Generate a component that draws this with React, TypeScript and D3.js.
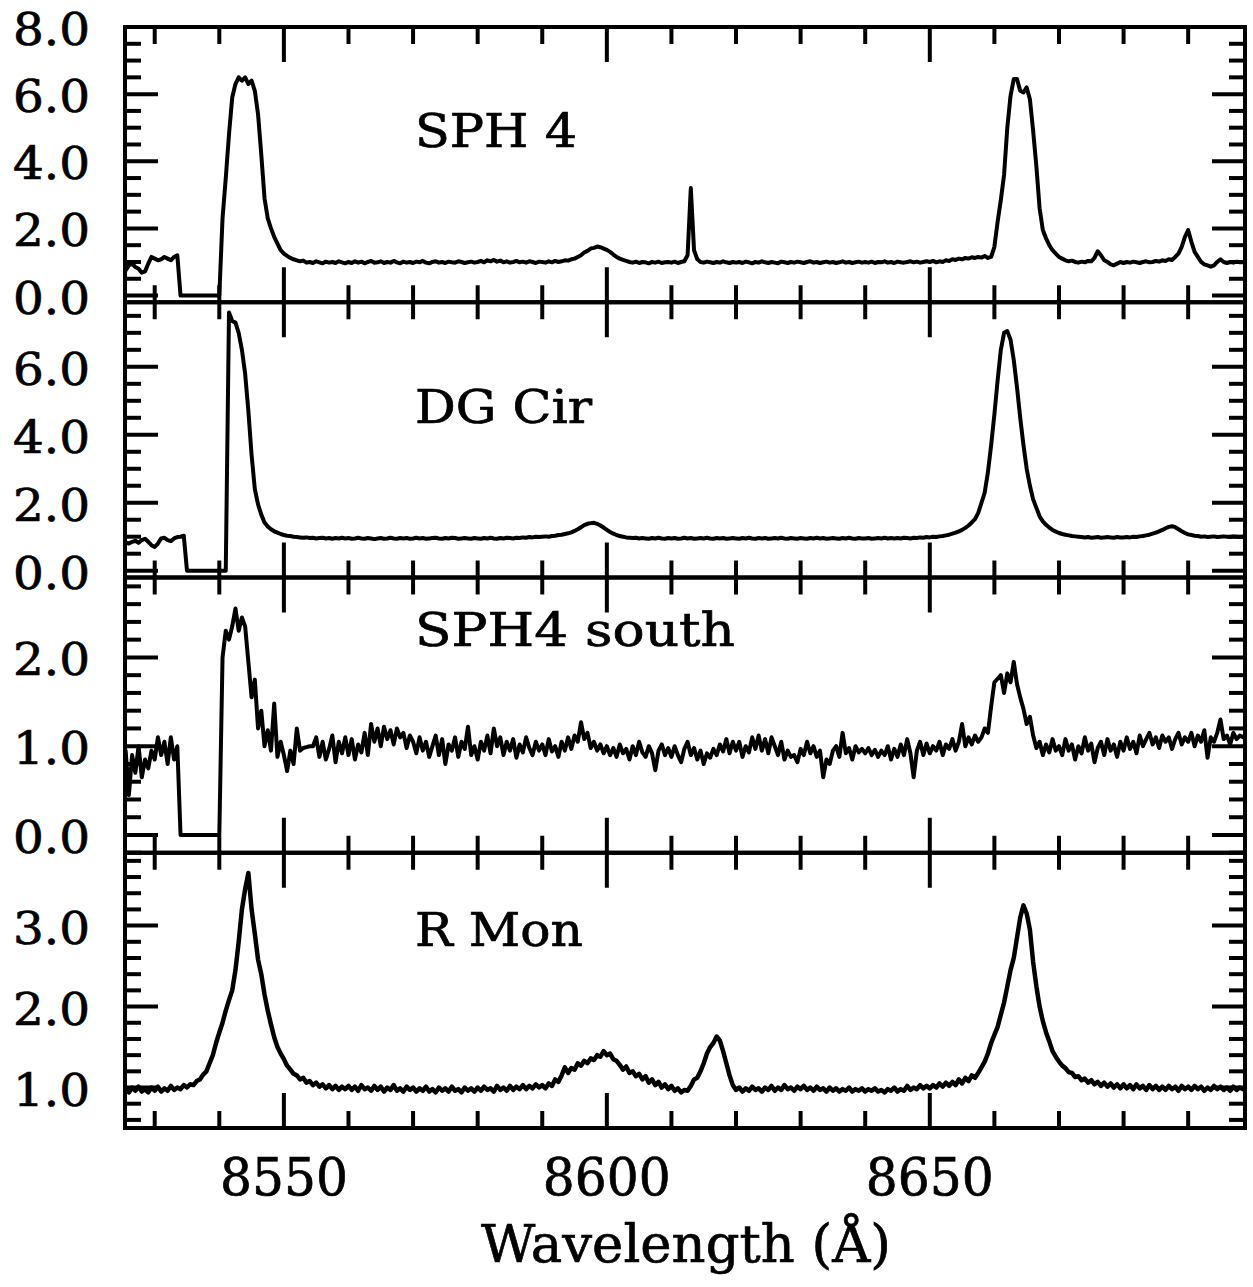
import React from 'react';
import * as d3 from 'd3';

// ---------- data ----------
const LAMBDA_START = 8525; // Å, first sample
const LAMBDA_STEP = 0.5; // Å per sample

// SPH 4
const sph4 = [
  /*8525*/ 0.85, 0.75, 0.9, 0.95, 0.85, 0.8, 0.68, 0.72, 0.95, 1.15,
  /*8530*/ 1.1, 1.05, 1.08, 1.15, 1.1, 1.05, 1.15, 1.2, 0, 0, 0, 0, 0, 0, 0, 0, 0, 0, 0, 0,
  /*8540*/ 0, 2.3, 3.5, 4.8, 5.9, 6.3, 6.5, 6.4, 6.5, 6.3, 6.4, 6.1, 5.4, 4.2, 2.9, 2.3, 2.0, 1.75, 1.55, 1.35,
  /*8550*/ 1.25, 1.18, 1.12, 1.08, 1.05, 1.02, 1.04, 0.98, 1.0, 0.97, 1.02, 0.99, 0.96, 1.01, 0.98, 1.0, 0.97, 1.02, 0.99, 0.96,
  /*8560*/ 1.0, 0.97, 1.02, 0.98, 1.01, 0.96, 1.0, 1.03, 0.98, 0.99, 1.02, 0.97, 1.0, 0.98, 1.03, 0.99, 0.96, 1.01, 0.98, 1.0,
  /*8570*/ 0.97, 1.01, 0.99, 1.03, 0.98, 0.96, 1.0, 1.02, 0.98, 1.0, 0.97, 1.01, 0.99, 0.98, 1.02, 1.0, 0.97, 0.99, 1.01, 0.98,
  /*8580*/ 1.0, 1.03, 0.99, 1.05, 1.02, 1.06, 1.01, 1.04, 0.99, 1.02, 0.98, 1.0, 1.03, 0.99, 1.01, 0.98, 1.02, 1.0, 0.97, 1.01,
  /*8590*/ 1.0, 0.98, 1.02, 0.99, 1.03, 1.0, 1.02, 1.05, 1.04, 1.08, 1.1, 1.15, 1.2, 1.28, 1.33, 1.4, 1.42, 1.46, 1.44, 1.4,
  /*8600*/ 1.36, 1.3, 1.22, 1.15, 1.1, 1.06, 1.03, 1.0, 0.98, 1.01, 0.97, 1.0, 0.99, 0.96, 1.0, 0.98, 1.01, 0.97, 0.99, 1.0,
  /*8610*/ 0.98, 1.01, 0.97, 1.0, 1.02, 1.2, 3.2, 1.35, 1.08, 1.0, 0.98, 1.01, 0.99, 0.97, 1.0, 0.98, 1.02, 0.99, 0.97, 1.0,
  /*8620*/ 0.98, 1.0, 0.97, 1.01, 0.99, 0.96, 1.0, 0.98, 1.02, 0.99, 0.97, 1.0, 0.98, 0.96, 1.01, 0.99, 0.97, 1.0, 0.98, 1.01,
  /*8630*/ 0.99, 0.97, 1.0, 1.02, 0.98, 1.0, 0.97, 0.99, 1.01, 0.98, 1.0, 0.97, 0.99, 1.02, 0.98, 1.0, 0.97, 0.99, 1.01, 0.98,
  /*8640*/ 1.0, 0.98, 1.01, 0.97, 1.0, 0.99, 1.02, 0.98, 1.0, 0.97, 1.01, 0.99, 0.98, 1.0, 1.02, 0.99, 1.01, 0.98, 1.0, 1.02,
  /*8650*/ 1.0, 1.03, 0.99, 1.02, 1.0, 1.05, 1.03, 1.08, 1.06, 1.1, 1.08, 1.12, 1.1, 1.14, 1.12, 1.15, 1.13, 1.18, 1.12, 1.15,
  /*8660*/ 1.45, 2.2, 2.85, 3.6, 5.0, 5.95, 6.45, 6.45, 6.1, 6.05, 6.2, 5.85, 4.9, 3.85, 2.6, 1.95, 1.7, 1.5, 1.35, 1.25,
  /*8670*/ 1.15, 1.1, 1.05, 1.02, 1.04, 1.0, 0.98, 1.01, 0.99, 1.03, 1.02, 1.12, 1.32, 1.2, 1.05, 1.0, 0.93, 0.9, 0.95, 1.0,
  /*8680*/ 0.97, 1.0, 0.98, 1.01, 0.99, 0.97, 1.0, 1.02, 0.99, 1.0, 1.03, 1.01, 1.05, 1.03, 1.08, 1.06, 1.15, 1.25, 1.45, 1.75,
  /*8690*/ 1.95, 1.6, 1.3, 1.15, 1.0, 0.93, 0.9, 0.86, 0.9, 1.0, 1.08, 1.0, 0.97, 1.0, 0.98, 1.01, 0.99, 1.0, 0.98, 1.0,
];

// DG Cir
const dgCir = [
  /*8525*/ 0.85, 0.83, 0.8, 0.85, 0.88, 0.82, 0.9, 0.94, 0.85, 0.75,
  /*8530*/ 0.7, 0.8, 0.95, 0.97, 0.9, 0.87, 0.95, 0.99, 1.0, 1.03, 0, 0, 0, 0, 0, 0, 0, 0, 0, 0,
  /*8540*/ 0, 0, 0, 7.6, 7.35, 7.3, 7.0, 6.5, 5.8, 4.7, 3.4, 2.4, 1.95, 1.65, 1.42, 1.3, 1.22, 1.16, 1.12, 1.08,
  /*8550*/ 1.05, 1.03, 1.02, 1.0, 0.99, 0.98, 0.97, 0.98, 0.96, 0.97, 0.95, 0.96, 0.97, 0.95, 0.96, 0.94, 0.96, 0.95, 0.97, 0.95,
  /*8560*/ 0.96, 0.94, 0.95, 0.97, 0.95, 0.94, 0.96, 0.95, 0.93, 0.95, 0.96, 0.94, 0.95, 0.97, 0.95, 0.94, 0.96, 0.95, 0.96, 0.94,
  /*8570*/ 0.95, 0.97, 0.95, 0.96, 0.94, 0.95, 0.96, 0.97, 0.95, 0.94, 0.96, 0.95, 0.97, 0.96, 0.94, 0.95, 0.96, 0.95, 0.94, 0.96,
  /*8580*/ 0.95, 0.94, 0.96, 0.95, 0.97, 0.95, 0.94, 0.96, 0.95, 0.97, 0.96, 0.95, 0.97, 0.96, 0.98, 0.97, 0.99, 0.98, 1.0, 0.99,
  /*8590*/ 1.0, 1.01, 1.0, 1.02, 1.03, 1.05, 1.06, 1.08, 1.1, 1.13, 1.17, 1.22, 1.28, 1.34, 1.38, 1.4, 1.41, 1.38, 1.33, 1.27,
  /*8600*/ 1.2, 1.14, 1.09, 1.05, 1.02, 1.0, 0.98, 0.97, 0.96, 0.97, 0.95, 0.96, 0.95, 0.94, 0.96, 0.95, 0.97, 0.95, 0.94, 0.96,
  /*8610*/ 0.95, 0.96, 0.94, 0.95, 0.97, 0.95, 0.96, 0.94, 0.95, 0.96, 0.95, 0.97, 0.95, 0.94, 0.96, 0.95, 0.96, 0.94, 0.95, 0.96,
  /*8620*/ 0.95, 0.94, 0.96, 0.95, 0.97, 0.95, 0.94, 0.96, 0.95, 0.96, 0.94, 0.95, 0.96, 0.95, 0.97, 0.95, 0.94, 0.96, 0.95, 0.94,
  /*8630*/ 0.96, 0.95, 0.94, 0.96, 0.95, 0.97, 0.95, 0.96, 0.94, 0.95, 0.96, 0.95, 0.94, 0.96, 0.95, 0.97, 0.95, 0.94, 0.96, 0.95,
  /*8640*/ 0.95, 0.96, 0.94, 0.95, 0.96, 0.95, 0.97, 0.95, 0.96, 0.95, 0.96, 0.95, 0.97, 0.96, 0.95, 0.97, 0.96, 0.98, 0.97, 0.99,
  /*8650*/ 0.98, 1.0, 0.99, 1.01, 1.02, 1.04, 1.06, 1.09, 1.12, 1.16, 1.2, 1.26, 1.33, 1.42, 1.52, 1.7, 2.0, 2.3, 2.9, 3.7,
  /*8660*/ 4.6, 5.6, 6.5, 7.0, 7.05, 6.8, 6.2, 5.4, 4.5, 3.7, 3.0, 2.5, 2.1, 1.85, 1.6, 1.45, 1.35, 1.27, 1.2, 1.15,
  /*8670*/ 1.11, 1.08, 1.06, 1.04, 1.02, 1.01, 1.0, 0.99, 0.98, 0.99, 0.97, 0.98, 0.99, 0.97, 0.98, 0.99, 0.98, 0.97, 0.99, 0.98,
  /*8680*/ 0.98, 0.99, 0.98, 1.0, 0.99, 1.01, 1.02, 1.04, 1.06, 1.09, 1.12, 1.16, 1.2, 1.25, 1.29, 1.31, 1.28, 1.22, 1.16, 1.11,
  /*8690*/ 1.07, 1.05, 1.03, 1.02, 1.0, 1.01, 0.99, 1.0, 1.01, 0.99, 1.0, 1.01, 1.0, 0.99, 1.01, 1.0, 0.99, 1.0, 1.01, 1.0,
];

// SPH4 south
const sph4South = [
  /*8525*/ 0.75, 0.95, 0.45, 0.9, 0.7, 1.0, 0.65, 0.85, 0.75, 0.95,
  /*8530*/ 0.85, 1.1, 0.9, 1.05, 0.8, 1.1, 0.85, 1.0, 0, 0, 0, 0, 0, 0, 0, 0, 0, 0, 0, 0,
  /*8540*/ 0, 2.0, 2.3, 2.2, 2.35, 2.55, 2.3, 2.45, 2.35, 1.95, 1.55, 1.75, 1.2, 1.4, 1.0, 1.18, 0.95, 1.48, 0.88, 1.05,
  /*8550*/ 0.9, 0.72, 0.95, 0.8, 1.2, 0.95, 0.98, 0.99, 1.0, 1.0, 1.1, 0.88, 1.05, 0.85, 0.97, 1.12, 0.82, 1.05, 0.92, 1.1,
  /*8560*/ 0.9, 1.08, 0.85, 1.02, 0.93, 1.15, 0.9, 1.25, 1.05, 1.2, 1.0, 1.22, 1.08, 1.18, 1.02, 1.2, 1.1, 1.15, 0.98, 1.12,
  /*8570*/ 1.05, 0.92, 1.1, 0.95, 1.05, 0.88, 1.0, 1.12, 0.9, 1.08, 0.8, 1.02, 0.95, 1.1, 0.88, 1.05, 0.97, 1.22, 0.9, 1.0,
  /*8580*/ 0.85, 1.05, 0.95, 1.12, 0.92, 1.2, 1.0, 1.1, 0.9, 1.05, 0.95, 1.08, 0.87, 1.02, 0.93, 1.1, 0.98, 0.9, 1.05, 0.95,
  /*8590*/ 1.02, 0.9, 1.08, 0.94, 1.0, 0.88, 1.05, 0.95, 1.1, 0.97, 1.12, 1.05, 1.27, 1.08, 1.15, 0.98, 1.05, 0.95, 1.02, 0.92,
  /*8600*/ 1.0, 0.9, 0.98, 0.88, 1.02, 0.92, 0.97, 0.85, 1.0, 0.9, 1.05, 0.93, 0.88, 1.0, 0.92, 0.73, 0.95, 1.02, 0.9, 0.98,
  /*8610*/ 0.88, 1.0, 0.9, 0.82, 0.97, 1.05, 0.9, 0.98, 0.85, 0.95, 0.8, 0.92, 0.87, 0.97, 0.9, 1.02, 0.94, 1.08, 0.92, 1.05,
  /*8620*/ 0.95, 1.05, 0.88, 1.0, 0.93, 1.1, 0.97, 1.12, 0.95, 1.08, 0.92, 1.1, 1.0, 0.9, 1.05, 0.85, 0.95, 0.88, 0.9, 0.82,
  /*8630*/ 0.97, 0.9, 1.05, 0.92, 1.0, 0.88, 0.95, 0.65, 0.85, 0.8, 0.95, 1.0, 0.88, 1.15, 0.92, 0.98, 0.85, 1.0, 0.93, 0.97,
  /*8640*/ 0.92, 0.98, 0.9, 0.96, 0.88, 0.95, 0.9, 1.0, 0.85, 0.97, 0.88, 1.02, 0.9, 1.08, 0.92, 0.65, 0.95, 1.05, 0.9, 1.03,
  /*8650*/ 0.92, 1.0, 0.95, 1.05, 0.9, 1.02, 0.97, 1.08, 0.95, 1.05, 1.25, 1.0, 1.1, 1.02, 1.12, 1.05, 1.1, 1.2, 1.15, 1.45,
  /*8660*/ 1.72, 1.76, 1.8, 1.6, 1.82, 1.72, 1.95, 1.7, 1.55, 1.42, 1.25, 1.33, 1.12, 0.98, 1.05, 0.9, 1.02, 0.93, 1.08, 0.95,
  /*8670*/ 1.0, 0.9, 1.08, 0.95, 1.02, 0.85, 1.0, 0.92, 1.1, 0.95, 1.03, 0.82, 0.98, 1.05, 0.9, 1.08, 0.95, 1.02, 0.88, 1.05,
  /*8680*/ 0.95, 1.1, 0.97, 1.05, 0.92, 1.12, 1.0, 1.08, 1.15, 1.02, 1.1, 0.98, 1.12, 1.05, 1.1, 0.97, 1.08, 1.15, 1.02, 1.1,
  /*8690*/ 1.05, 1.15, 1.0, 1.12, 1.05, 1.18, 0.87, 1.1, 1.05, 1.15, 1.3, 1.08, 1.12, 1.02, 1.15, 1.08, 1.12, 1.1, 1.15, 1.1,
];

// R Mon
const rMon = [
  /*8525*/ 0.95, 0.99, 0.94, 1.0, 0.96, 1.01, 0.95, 0.98, 0.94, 1.0,
  /*8530*/ 0.96, 1.01, 0.95, 0.99, 0.96, 1.02, 0.97, 1.0, 0.98, 1.03, 1.0, 1.04, 1.03, 1.08, 1.1, 1.16, 1.2, 1.3, 1.4, 1.55,
  /*8540*/ 1.68, 1.8, 1.95, 2.08, 2.2, 2.45, 2.8, 3.2, 3.45, 3.65, 3.2, 2.9, 2.58, 2.4, 2.15, 1.95, 1.78, 1.62, 1.5, 1.42,
  /*8550*/ 1.35, 1.27, 1.22, 1.17, 1.15, 1.1, 1.12, 1.06, 1.08, 1.03, 1.06, 1.01, 1.04, 0.99, 1.03, 0.98, 1.02, 0.97, 1.01, 0.98,
  /*8560*/ 1.02, 0.97, 1.01, 0.96, 1.03, 0.98, 1.0, 0.96, 1.02, 0.97, 1.01, 0.95, 1.0, 0.97, 1.03, 0.96, 0.99, 0.95, 1.01, 0.97,
  /*8570*/ 1.0, 0.95, 0.99, 0.96, 1.01, 0.95, 0.98, 0.94, 1.0, 0.96, 0.99, 0.95, 1.01, 0.96, 0.98, 0.94, 1.0, 0.96, 0.99, 0.95,
  /*8580*/ 1.0, 0.96, 1.01, 0.97, 0.99, 0.95, 1.02, 0.97, 1.0, 0.96, 1.02, 0.97, 1.01, 0.98, 1.03, 0.98, 1.02, 0.99, 1.04, 1.0,
  /*8590*/ 1.03, 0.99, 1.05, 1.02, 1.1, 1.07, 1.15, 1.25, 1.18, 1.24, 1.22, 1.3, 1.27, 1.33, 1.3, 1.36, 1.34, 1.4, 1.38, 1.45,
  /*8600*/ 1.4, 1.42, 1.35, 1.33, 1.28, 1.22, 1.26, 1.18, 1.2, 1.14, 1.17, 1.1, 1.14, 1.06, 1.1, 1.03, 1.07, 1.0, 1.04, 0.98,
  /*8610*/ 1.02, 0.96, 0.99, 0.94, 0.97, 0.96, 1.02, 1.1, 1.12, 1.2, 1.3, 1.42, 1.5, 1.55, 1.63, 1.58, 1.45, 1.3, 1.15, 1.03,
  /*8620*/ 0.97, 1.0, 0.95, 0.99, 0.96, 1.01, 0.97, 0.99, 0.95, 1.0, 0.97, 1.02, 0.96, 1.0, 0.97, 1.03, 0.98, 1.0, 0.96, 1.01,
  /*8630*/ 0.98, 1.02, 0.97, 1.0, 0.96, 1.01, 0.97, 0.99, 0.95, 1.0, 0.96, 0.99, 0.95, 0.98, 0.96, 1.0, 0.95, 0.98, 0.96, 0.99,
  /*8640*/ 0.95, 0.98, 0.96, 0.99, 0.95, 0.97, 0.94, 0.98, 0.96, 1.0, 0.95, 0.98, 0.96, 1.02, 0.97, 1.0, 0.98, 1.03, 0.99, 1.02,
  /*8650*/ 0.99, 1.03, 1.0, 1.05, 1.01, 1.06, 1.02, 1.07, 1.03, 1.1, 1.05, 1.12, 1.08, 1.15, 1.12, 1.18, 1.25, 1.32, 1.42, 1.55,
  /*8660*/ 1.65, 1.75, 1.9, 2.05, 2.25, 2.45, 2.6, 2.85, 3.1, 3.25, 3.15, 2.95, 2.55, 2.25, 2.0, 1.82, 1.68, 1.57, 1.45, 1.38,
  /*8670*/ 1.32, 1.27, 1.24, 1.19, 1.18, 1.13, 1.14, 1.09, 1.11, 1.06, 1.09, 1.04, 1.07, 1.02, 1.06, 1.01, 1.05, 1.0, 1.04, 0.99,
  /*8680*/ 1.04, 0.99, 1.03, 0.98, 1.04, 0.99, 1.02, 0.97, 1.03, 0.98, 1.02, 0.97, 1.01, 0.97, 1.02, 0.98, 1.01, 0.96, 1.02, 0.98,
  /*8690*/ 1.01, 0.97, 1.02, 0.98, 1.01, 0.96, 1.0, 0.97, 1.02, 0.98, 1.01, 0.97, 1.0, 0.96, 1.01, 0.97, 1.0, 0.98, 1.01, 0.97,
];

const panelNames = ['SPH 4', 'DG Cir', 'SPH4 south', 'R Mon'];
const panelSeries = [sph4, dgCir, sph4South, rMon];
const panelYDomains: [number, number][] = [[-0.2, 8.0], [-0.2, 7.9], [-0.2, 2.9], [0.5, 3.9]];
const panelMajorTicks = [[0, 2, 4, 6, 8], [0, 2, 4, 6], [0, 1, 2], [1, 2, 3]];
const panelMinorSteps = [0.5, 0.5, 0.2, 0.2];
const xDomain: [number, number] = [8525.4, 8698.8];
const xMajorTicks = [8550, 8600, 8650];
const xMinorStep = 10;
const xTitle = 'Wavelength (Å)';

// ---------- layout ----------
const W = 1253;
const H = 1287;
const LEFT = 125;
const RIGHT = 1245;
const TOP = 27;
const BOTTOM = 1128;
const PANEL_H = (BOTTOM - TOP) / 4;
const MAJOR_LEN_X = 35;
const MINOR_LEN_X = 17;
const MAJOR_LEN_Y = 33;
const MINOR_LEN_Y = 16;
const AXIS_W = 4;
const LINE_WIDTHS = [4, 4, 4, 4.5];
const FONT = "'DejaVu Serif', serif";
const TEXT_STROKE = 0.7;
const labelLayout = [
  { baseline: 147, len: 162 },
  { baseline: 423, len: 177 },
  { baseline: 646, len: 320 },
  { baseline: 946, len: 168 },
];

function minorTicks(domain: [number, number], step: number, majors: number[]) {
  const out: number[] = [];
  const start = Math.ceil(domain[0] / step - 1e-9);
  const end = Math.floor(domain[1] / step + 1e-9);
  for (let k = start; k <= end; k++) {
    const v = Math.round(k * step * 1000) / 1000;
    if (!majors.some((m) => Math.abs(m - v) < 1e-6)) out.push(v);
  }
  return out;
}

export default function App() {
  const x = d3.scaleLinear().domain(xDomain).range([LEFT, RIGHT]);
  const xMinor = d3.range(8530, 8700, xMinorStep).filter((v) => !xMajorTicks.includes(v));
  const textProps = {
    fontFamily: FONT,
    fill: '#000',
    stroke: '#000',
    strokeWidth: TEXT_STROKE,
    lengthAdjust: 'spacingAndGlyphs',
  } as const;

  return (
    <svg
      width={W}
      height={H}
      viewBox={`0 0 ${W} ${H}`}
      style={{ position: 'absolute', left: 0, top: 0, background: '#fff' }}
    >
      <rect x={0} y={0} width={W} height={H} fill="#fff" />
      {panelSeries.map((series, i) => {
        const top = TOP + i * PANEL_H;
        const bottom = top + PANEL_H;
        const y = d3.scaleLinear().domain(panelYDomains[i]).range([bottom, top]);
        const line = d3
          .line<number>()
          .x((_, k) => x(LAMBDA_START + k * LAMBDA_STEP))
          .y((v) => y(v));
        const majors = panelMajorTicks[i];
        const minors = minorTicks(panelYDomains[i], panelMinorSteps[i], majors);
        const clipId = `clip-${i}`;
        return (
          <g key={i}>
            <defs>
              <clipPath id={clipId}>
                <rect x={LEFT} y={top} width={RIGHT - LEFT} height={PANEL_H} />
              </clipPath>
            </defs>
            <path
              d={line(series) || ''}
              fill="none"
              stroke="#000"
              strokeWidth={LINE_WIDTHS[i]}
              strokeLinejoin="round"
              strokeLinecap="round"
              clipPath={`url(#${clipId})`}
            />
            {xMinor.map((v) => (
              <g key={`xm${v}`} stroke="#000" strokeWidth={AXIS_W}>
                <line x1={x(v)} x2={x(v)} y1={top} y2={top + MINOR_LEN_X} />
                <line x1={x(v)} x2={x(v)} y1={bottom} y2={bottom - MINOR_LEN_X} />
              </g>
            ))}
            {xMajorTicks.map((v) => (
              <g key={`xM${v}`} stroke="#000" strokeWidth={AXIS_W}>
                <line x1={x(v)} x2={x(v)} y1={top} y2={top + MAJOR_LEN_X} />
                <line x1={x(v)} x2={x(v)} y1={bottom} y2={bottom - MAJOR_LEN_X} />
              </g>
            ))}
            {minors.map((v) => (
              <g key={`ym${v}`} stroke="#000" strokeWidth={AXIS_W}>
                <line x1={LEFT} x2={LEFT + MINOR_LEN_Y} y1={y(v)} y2={y(v)} />
                <line x1={RIGHT} x2={RIGHT - MINOR_LEN_Y} y1={y(v)} y2={y(v)} />
              </g>
            ))}
            {majors.map((v) => (
              <g key={`yM${v}`}>
                <g stroke="#000" strokeWidth={AXIS_W}>
                  <line x1={LEFT} x2={LEFT + MAJOR_LEN_Y} y1={y(v)} y2={y(v)} />
                  <line x1={RIGHT} x2={RIGHT - MAJOR_LEN_Y} y1={y(v)} y2={y(v)} />
                </g>
                <text {...textProps} x={13} y={y(v) + 18} fontSize={45} textLength={77}>
                  {v.toFixed(1)}
                </text>
              </g>
            ))}
            <rect
              x={LEFT}
              y={top}
              width={RIGHT - LEFT}
              height={PANEL_H}
              fill="none"
              stroke="#000"
              strokeWidth={AXIS_W}
            />
            <text
              {...textProps}
              x={415}
              y={labelLayout[i].baseline}
              fontSize={46}
              textLength={labelLayout[i].len}
            >
              {panelNames[i]}
            </text>
          </g>
        );
      })}
      {xMajorTicks.map((v) => (
        <text key={`xl${v}`} {...textProps} x={x(v) - 64} y={1195} fontSize={52} textLength={128}>
          {String(v)}
        </text>
      ))}
      <text {...textProps} x={481} y={1262} fontSize={53} textLength={410}>
        {xTitle}
      </text>
    </svg>
  );
}
